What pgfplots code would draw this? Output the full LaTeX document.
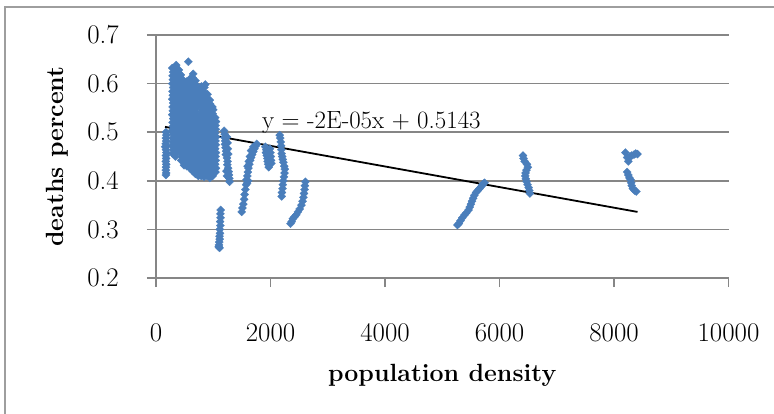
\documentclass[border=0pt]{standalone}
\usepackage{fontspec}
\usepackage{pgfplots}
\pgfplotsset{compat=1.18}
\definecolor{ptblue}{RGB}{74,126,187}
\definecolor{gridgray}{RGB}{134,134,134}
\begin{document}
\begin{tikzpicture}
\useasboundingbox (-156bp,-136bp) rectangle (618bp,278bp);
\draw[gridgray!80, line width=1.6bp] (-151bp,-140bp) -- (-151bp,271bp) -- (625bp,271bp);
\begin{axis}[
  scale only axis, width=572.5bp, height=243bp,
  at={(0,0)}, anchor=south west,
  xmin=0, xmax=10000, ymin=0.2, ymax=0.7,
  axis lines*=left,
  axis line style={gridgray, line width=1.6bp},
  tick align=outside, major tick length=9bp,
  tick style={gridgray, line width=1.6bp},
  ymajorgrids, grid style={gridgray, line width=1.6bp},
  xtick={0,2000,4000,6000,8000,10000},
  ytick={0.2,0.3,0.4,0.5,0.6,0.7},
  scaled x ticks=false, scaled y ticks=false,
  /pgf/number format/assume math mode=true,
  tick label style={font=\fontsize{27}{27}\selectfont, inner sep=0pt},
  xticklabel style={anchor=base, yshift=-54bp, /pgf/number format/set thousands separator={}},
  yticklabel style={anchor=east, xshift=-28bp, /pgf/number format/fixed, /pgf/number format/precision=1, /pgf/number format/fixed zerofill},
  xlabel={population density},
  ylabel={deaths percent},
  label style={font=\fontsize{25}{25}\selectfont\bfseries},
  xlabel style={at={(axis description cs:0.5,-0.399)}, anchor=center},
  ylabel style={at={(axis description cs:-0.173,0.5)}, anchor=center},
  clip=false,
]
\addplot[only marks, mark=square*, mark size=2.9bp, mark options={rotate=45, fill=ptblue, draw=ptblue, line width=0.2bp}, color=ptblue] coordinates {
% leftmost strip
(160,0.470)(175,0.500)(180,0.494)(172,0.488)(178,0.482)(170,0.476)(176,0.470)(174,0.464)(181,0.458)(173,0.452)(177,0.446)(171,0.440)(179,0.434)(175,0.428)(172,0.422)(178,0.416)(174,0.412)
% main cluster col ~290
(290,0.456)(300,0.464)(284,0.472)(294,0.480)(290,0.488)(300,0.496)(284,0.504)(294,0.512)(290,0.520)(300,0.528)(284,0.536)(294,0.544)(290,0.552)(300,0.560)(284,0.568)(294,0.576)(290,0.584)(300,0.592)(284,0.600)(294,0.608)(290,0.616)(300,0.624)(284,0.632)
% col ~340
(340,0.450)(350,0.458)(334,0.466)(344,0.474)(340,0.482)(350,0.490)(334,0.498)(344,0.506)(340,0.514)(350,0.522)(334,0.530)(344,0.538)(340,0.546)(350,0.554)(334,0.562)(344,0.570)(340,0.578)(350,0.586)(334,0.594)(344,0.602)(340,0.610)(350,0.618)(334,0.626)(344,0.634)(352,0.638)
% col ~390
(390,0.462)(400,0.470)(384,0.478)(394,0.486)(390,0.494)(400,0.502)(384,0.510)(394,0.518)(390,0.526)(400,0.534)(384,0.542)(394,0.550)(390,0.558)(400,0.566)(384,0.574)(394,0.582)(390,0.590)(400,0.598)(384,0.606)(394,0.614)(390,0.622)(400,0.628)
% col ~440
(440,0.442)(450,0.450)(434,0.458)(444,0.466)(440,0.474)(450,0.482)(434,0.490)(444,0.498)(440,0.506)(450,0.514)(434,0.522)(444,0.530)(440,0.538)(450,0.546)(434,0.554)(444,0.562)(440,0.570)(450,0.578)(434,0.586)(444,0.594)(440,0.602)(450,0.610)(434,0.618)
% col ~490
(490,0.432)(500,0.440)(484,0.448)(494,0.456)(490,0.464)(500,0.472)(484,0.480)(494,0.488)(490,0.496)(500,0.504)(484,0.512)(494,0.520)(490,0.528)(500,0.536)(484,0.544)(494,0.552)(490,0.560)(500,0.568)(484,0.576)(494,0.584)(490,0.592)(500,0.600)
% col ~540
(540,0.430)(550,0.438)(534,0.446)(544,0.454)(540,0.462)(550,0.470)(534,0.478)(544,0.486)(540,0.494)(550,0.502)(534,0.510)(544,0.518)(540,0.526)(550,0.534)(534,0.542)(544,0.550)(540,0.558)(550,0.566)(534,0.574)(544,0.582)(540,0.590)(550,0.598)(534,0.604)
% col ~590
(565,0.645)(590,0.426)(600,0.434)(584,0.442)(594,0.450)(590,0.458)(600,0.466)(584,0.474)(594,0.482)(590,0.490)(600,0.498)(584,0.506)(594,0.514)(590,0.522)(600,0.530)(584,0.538)(594,0.546)(590,0.554)(600,0.562)(584,0.570)(594,0.578)(590,0.586)(600,0.594)(584,0.602)(594,0.610)
% col ~640
(640,0.420)(650,0.428)(634,0.436)(644,0.444)(640,0.452)(650,0.460)(634,0.468)(644,0.476)(640,0.484)(650,0.492)(634,0.500)(644,0.508)(640,0.516)(650,0.524)(634,0.532)(644,0.540)(640,0.548)(650,0.556)(634,0.564)(644,0.572)(640,0.580)(650,0.588)(634,0.596)(644,0.604)(640,0.612)(650,0.620)
% col ~690
(690,0.414)(700,0.422)(684,0.430)(694,0.438)(690,0.446)(700,0.454)(684,0.462)(694,0.470)(690,0.478)(700,0.486)(684,0.494)(694,0.502)(690,0.510)(700,0.518)(684,0.526)(694,0.534)(690,0.542)(700,0.550)(684,0.558)(694,0.566)(690,0.574)(700,0.582)(684,0.590)(694,0.598)(690,0.606)
% col ~740
(740,0.410)(750,0.418)(734,0.426)(744,0.434)(740,0.442)(750,0.450)(734,0.458)(744,0.466)(740,0.474)(750,0.482)(734,0.490)(744,0.498)(740,0.506)(750,0.514)(734,0.522)(744,0.530)(750,0.562)(734,0.570)(744,0.578)(740,0.586)
% col ~790
(790,0.410)(800,0.418)(784,0.426)(794,0.434)(790,0.442)(800,0.450)(784,0.458)(794,0.466)(790,0.474)(800,0.482)(784,0.490)(794,0.498)(790,0.506)(800,0.514)(784,0.522)(794,0.530)(790,0.538)(800,0.546)(784,0.554)(794,0.562)(790,0.570)(800,0.578)(784,0.586)(794,0.594)
% col ~840
(840,0.408)(850,0.416)(834,0.424)(844,0.432)(840,0.440)(850,0.448)(834,0.456)(844,0.464)(840,0.472)(850,0.480)(834,0.488)(844,0.496)(840,0.504)(850,0.512)(834,0.520)(844,0.528)(840,0.536)(850,0.544)(834,0.552)(844,0.560)(840,0.568)(850,0.576)(834,0.584)(844,0.592)(860,0.598)
% col ~890
(890,0.410)(900,0.418)(884,0.426)(894,0.434)(890,0.442)(900,0.450)(884,0.458)(894,0.466)(890,0.474)(900,0.482)(884,0.490)(894,0.498)(890,0.506)(900,0.514)(884,0.522)(894,0.530)(890,0.538)(900,0.546)(884,0.554)(894,0.562)(890,0.570)(900,0.578)
% col ~940
(940,0.406)(950,0.414)(934,0.422)(944,0.430)(940,0.438)(950,0.446)(934,0.454)(944,0.462)(940,0.470)(950,0.478)(934,0.486)(944,0.494)(940,0.502)(950,0.510)(934,0.518)(944,0.526)(940,0.534)(950,0.542)(934,0.550)(944,0.558)(940,0.566)
% col ~990
(990,0.410)(1000,0.418)(984,0.426)(994,0.434)(990,0.442)(1000,0.450)(984,0.458)(994,0.466)(990,0.474)(1000,0.482)(984,0.490)(994,0.498)(990,0.506)(1000,0.514)(984,0.522)(994,0.530)(990,0.538)(1000,0.546)(984,0.552)
% col ~1040
(1040,0.418)(1048,0.426)(1034,0.434)(1044,0.442)(1040,0.450)(1048,0.458)(1034,0.466)(1044,0.474)(1040,0.482)(1048,0.490)(1034,0.498)(1044,0.506)(1040,0.514)(1048,0.522)(1034,0.530)
% strip ~1110 low
(1130,0.340)(1125,0.332)(1128,0.324)(1120,0.316)(1124,0.308)(1115,0.300)(1118,0.292)(1110,0.286)(1112,0.280)(1105,0.274)(1100,0.268)(1095,0.264)(1110,0.262)
% strip ~1230
(1190,0.503)(1200,0.496)(1195,0.489)(1210,0.482)(1205,0.475)(1215,0.468)(1225,0.461)(1220,0.454)(1240,0.447)(1250,0.440)(1245,0.433)(1260,0.426)(1270,0.419)(1275,0.412)(1280,0.405)(1285,0.398)(1240,0.490)(1250,0.478)(1255,0.466)(1262,0.455)(1230,0.420)(1240,0.410)
% diagonal ~1500-1760
(1497,0.336)(1510,0.344)(1525,0.352)(1540,0.362)(1548,0.372)(1560,0.382)(1575,0.392)(1580,0.402)(1595,0.410)(1605,0.418)(1615,0.426)(1630,0.434)(1645,0.442)(1660,0.448)(1680,0.454)(1700,0.460)(1720,0.466)(1745,0.472)(1760,0.476)(1600,0.430)(1620,0.440)(1640,0.450)(1590,0.395)(1610,0.400)(1660,0.462)(1700,0.470)
% strip ~1960
(1910,0.470)(1925,0.464)(1920,0.458)(1935,0.452)(1945,0.446)(1950,0.440)(1960,0.434)(1970,0.428)(1990,0.466)(2000,0.458)(2005,0.450)(2010,0.442)(2015,0.436)
% strip ~2200
(2160,0.494)(2170,0.488)(2180,0.480)(2185,0.472)(2190,0.464)(2195,0.456)(2205,0.450)(2215,0.444)(2225,0.438)(2240,0.430)(2250,0.424)(2245,0.416)(2235,0.408)(2225,0.400)(2215,0.392)(2210,0.384)(2200,0.376)(2195,0.368)
% diagonal ~2350-2610
(2350,0.312)(2370,0.316)(2390,0.322)(2420,0.326)(2450,0.330)(2480,0.336)(2510,0.342)(2540,0.350)(2560,0.358)(2575,0.366)(2585,0.374)(2595,0.382)(2600,0.390)(2610,0.398)
% diagonal ~5265-5740
(5265,0.309)(5290,0.312)(5320,0.318)(5350,0.324)(5390,0.330)(5420,0.334)(5460,0.340)(5480,0.346)(5500,0.352)(5520,0.358)(5540,0.364)(5560,0.370)(5590,0.376)(5620,0.380)(5650,0.384)(5680,0.388)(5700,0.392)(5720,0.394)(5740,0.396)
% strip ~6450
(6410,0.452)(6420,0.446)(6440,0.440)(6480,0.434)(6495,0.428)(6470,0.422)(6455,0.416)(6450,0.410)(6460,0.404)(6475,0.398)(6490,0.392)(6510,0.386)(6520,0.380)(6530,0.374)
% strip ~8300
(8200,0.458)(8230,0.448)(8250,0.440)(8280,0.450)(8310,0.452)(8350,0.454)(8380,0.456)(8410,0.455)(8230,0.418)(8250,0.412)(8270,0.406)(8290,0.402)(8300,0.396)(8310,0.390)(8330,0.384)(8360,0.380)(8390,0.378)
};
\addplot[black, line width=1.8bp, no marks] coordinates {(157,0.5110) (8410,0.3360)};
\node[anchor=base west, inner sep=0pt, font=\fontsize{25}{25}\selectfont] at (axis cs:1851,0.508) {y = -2E-05x + 0.5143};
\end{axis}
\end{tikzpicture}
\end{document}
